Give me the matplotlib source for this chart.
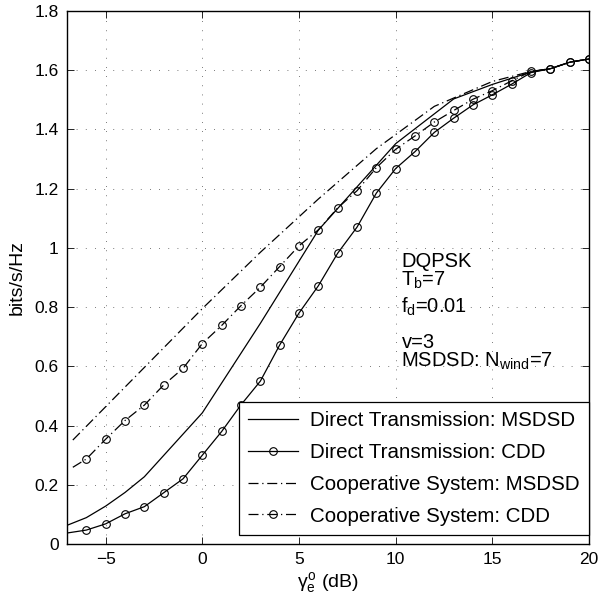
import numpy as np
import matplotlib
matplotlib.use('Agg')
import matplotlib.pyplot as plt

plt.rcParams['font.family'] = ['Liberation Sans', 'DejaVu Sans']
plt.rcParams['mathtext.fontset'] = 'custom'
plt.rcParams['mathtext.rm'] = 'Liberation Sans'
plt.rcParams['mathtext.it'] = 'Liberation Sans'

# Direct transmission, MSDSD (no markers)
x_dir_msdsd = [-7, -6, -5, -4, -3, 0, 3, 6, 10, 13, 15, 17, 18, 19, 20]
y_dir_msdsd = [0.063, 0.089, 0.128, 0.174, 0.227, 0.443, 0.745, 1.06, 1.352, 1.503, 1.552,
               1.594, 1.605, 1.627, 1.638]

# Direct transmission, CDD (first point has no marker)
x_dir_cdd = [-7] + list(range(-6, 21))
y_dir_cdd = [0.037, 0.047, 0.068, 0.102, 0.126, 0.173, 0.22, 0.30, 0.38, 0.47, 0.55,
             0.672, 0.78, 0.872, 0.982, 1.07, 1.185, 1.268, 1.325, 1.39, 1.438,
             1.483, 1.517, 1.553, 1.592, 1.605, 1.627, 1.638]

# Cooperative system, MSDSD (no markers)
x_coop_msdsd = [-6.7, 0, 3, 6, 9, 12, 15, 17, 18, 19, 20]
y_coop_msdsd = [0.351, 0.795, 0.985, 1.165, 1.335, 1.478, 1.562, 1.596, 1.605, 1.627, 1.638]

# Cooperative system, CDD (first point has no marker)
x_coop_cdd = [-6.7] + list(range(-6, 21))
y_coop_cdd = [0.259, 0.287, 0.354, 0.417, 0.469, 0.537, 0.593, 0.677, 0.738, 0.805,
              0.867, 0.937, 1.007, 1.061, 1.135, 1.193, 1.271, 1.333, 1.378, 1.425,
              1.464, 1.502, 1.531, 1.564, 1.596, 1.605, 1.627, 1.638]

labels = ['Direct Transmission: MSDSD', 'Direct Transmission: CDD',
          'Cooperative System: MSDSD', 'Cooperative System: CDD']

fig = plt.figure(figsize=(6.0, 5.94), dpi=100)
ax = fig.add_axes([0.1117, 0.0842, 0.87, 0.8973])

dashdot = (0, (8, 3, 1, 3))
mk = dict(marker='o', markersize=5.5, markerfacecolor='none', markeredgecolor='k', markeredgewidth=0.8)

ax.plot(x_dir_msdsd, y_dir_msdsd, color='k', lw=0.9, label=labels[0])
ax.plot(x_dir_cdd, y_dir_cdd, color='k', lw=0.9, markevery=list(range(1, len(x_dir_cdd))),
        label=labels[1], **mk)
ax.plot(x_coop_msdsd, y_coop_msdsd, color='k', lw=0.9, linestyle=dashdot, label=labels[2])
ax.plot(x_coop_cdd, y_coop_cdd, color='k', lw=0.9, linestyle=dashdot,
        markevery=list(range(1, len(x_coop_cdd))), label=labels[3], **mk)

ax.set_xlim(-7, 20)
ax.set_ylim(0, 1.8)
ax.set_xticks([-5, 0, 5, 10, 15, 20])
yt = np.round(np.arange(0, 1.81, 0.2), 1)
ax.set_yticks(yt)
ax.set_yticklabels(['0' if v == 0 else ('1' if v == 1 else f'{v:g}') for v in yt])
ax.tick_params(direction='in', top=True, right=True, length=5, width=0.6, labelsize=12.5, pad=6)
for s in ax.spines.values():
    s.set_linewidth(1.0)
ax.grid(True, linestyle=(0, (1, 10)), linewidth=0.6, color='0.3')

ax.set_xlabel(r'$\gamma_e^o$ (dB)', fontsize=14, labelpad=2)
ax.set_ylabel('bits/s/Hz', fontsize=14, labelpad=6)

tx = 10.3
ax.text(tx, 0.937, 'DQPSK', fontsize=14.5)
ax.text(tx, 0.872, r'T$_\mathregular{b}$=7', fontsize=14.5)
ax.text(tx, 0.78, r'f$_\mathregular{d}$=0.01', fontsize=14.5)
ax.text(tx, 0.662, 'v=3', fontsize=14.5)
ax.text(tx, 0.598, r'MSDSD: N$_\mathregular{wind}$=7', fontsize=14.5)

leg = ax.legend(loc='lower right', bbox_to_anchor=(1.0, 0.017), borderaxespad=0,
                fontsize=14.8, fancybox=False, framealpha=1, edgecolor='k',
                handlelength=2.4, handletextpad=0.6, labelspacing=0.62, borderpad=0.45)
leg.get_frame().set_linewidth(0.9)

fig.savefig('out.png', dpi=100)
